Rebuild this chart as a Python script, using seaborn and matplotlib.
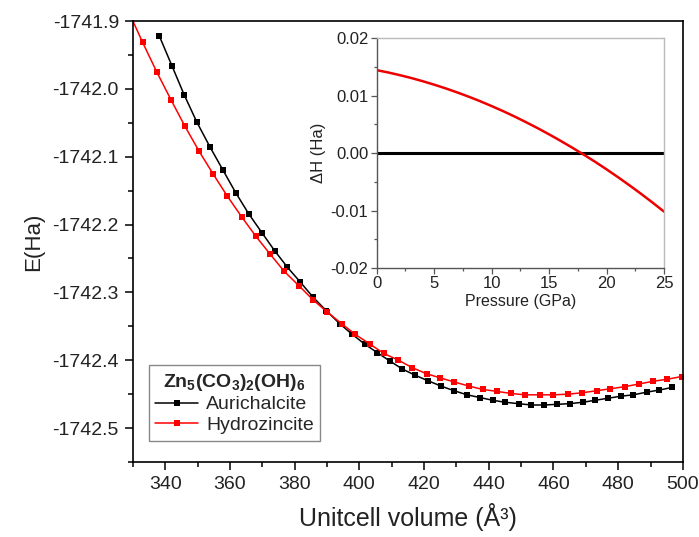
import numpy as np
import pandas as pd
import matplotlib
matplotlib.use("Agg")
import matplotlib.pyplot as plt
from matplotlib.ticker import MultipleLocator, FormatStrFormatter
import seaborn as sns

# Aurichalcite E(V)
v_aur = [338.2, 342.1, 345.9, 349.8, 353.9, 357.9, 361.8, 365.8, 369.9, 373.9,
         377.8, 381.8, 385.7, 389.8, 393.9, 397.6, 401.6, 405.6, 409.4, 413.3,
         417.2, 421.1, 425.2, 429.3, 433.3, 437.3, 441.2, 445.1, 449.2, 453.2,
         457.1, 461.1, 465.0, 469.0, 472.9, 476.9, 480.8, 484.7, 488.8, 492.7,
         496.7]
e_aur = [-1741.922, -1741.966, -1742.009, -1742.049, -1742.086, -1742.120,
         -1742.153, -1742.184, -1742.212, -1742.239, -1742.263, -1742.285,
         -1742.307, -1742.327, -1742.346, -1742.361, -1742.376, -1742.389,
         -1742.401, -1742.413, -1742.422, -1742.430, -1742.438, -1742.445,
         -1742.451, -1742.455, -1742.459, -1742.462, -1742.464, -1742.466,
         -1742.466, -1742.465, -1742.464, -1742.462, -1742.459, -1742.456,
         -1742.453, -1742.451, -1742.447, -1742.444, -1742.440]

# Hydrozincite E(V)
v_hyd = [328.6, 333.0, 337.4, 341.8, 346.1, 350.5, 354.9, 359.2, 363.7, 368.0,
         372.5, 376.8, 381.3, 385.7, 390.1, 394.5, 398.8, 403.2, 407.6, 412.1,
         416.4, 420.8, 425.0, 429.3, 433.8, 438.1, 442.6, 446.9, 451.2, 455.7,
         460.0, 464.5, 468.8, 473.3, 477.6, 482.0, 486.4, 490.8, 495.2, 499.6]
e_hyd = [-1741.885, -1741.931, -1741.975, -1742.016, -1742.055, -1742.092,
         -1742.126, -1742.158, -1742.189, -1742.217, -1742.244, -1742.269,
         -1742.290, -1742.311, -1742.329, -1742.346, -1742.362, -1742.376,
         -1742.390, -1742.400, -1742.411, -1742.420, -1742.426, -1742.432,
         -1742.438, -1742.443, -1742.446, -1742.449, -1742.451, -1742.451,
         -1742.451, -1742.450, -1742.448, -1742.445, -1742.442, -1742.439,
         -1742.435, -1742.431, -1742.428, -1742.424]

# inset: enthalpy difference vs pressure
pressure = list(range(0, 26))
delta_h = [0.01443, 0.01402, 0.01356, 0.01306, 0.01250, 0.01190, 0.01125,
           0.01055, 0.00981, 0.00902, 0.00817, 0.00729, 0.00635, 0.00536,
           0.00433, 0.00325, 0.00212, 0.00095, -0.00026, -0.00152, -0.00284,
           -0.00421, -0.00563, -0.00710, -0.00862, -0.01020]

sns.set_style("ticks")
plt.rcParams["font.family"] = ["Liberation Sans", "DejaVu Sans"]
plt.rcParams["axes.unicode_minus"] = False
plt.rcParams["mathtext.fontset"] = "custom"
plt.rcParams["mathtext.rm"] = "Liberation Sans"
plt.rcParams["mathtext.bf"] = "Liberation Sans:bold"
plt.rcParams["mathtext.default"] = "regular"

fig = plt.figure(figsize=(6.99, 5.37), dpi=100)
ax = fig.add_axes([0.190, 0.1397, 0.787, 0.821])

sns.lineplot(x=v_aur, y=e_aur, color="black", marker="s", markersize=5,
             markeredgewidth=0, linewidth=1.1, sort=False, ax=ax,
             label="Aurichalcite")
sns.lineplot(x=v_hyd, y=e_hyd, color="#ff0000", marker="s", markersize=5,
             markeredgewidth=0, linewidth=1.1, sort=False, ax=ax,
             label="Hydrozincite")

ax.set_xlim(330, 500)
ax.set_ylim(-1742.55, -1741.9)
ax.xaxis.set_major_locator(MultipleLocator(20))
ax.xaxis.set_minor_locator(MultipleLocator(10))
ax.yaxis.set_major_locator(MultipleLocator(0.1))
ax.yaxis.set_minor_locator(MultipleLocator(0.05))
ax.yaxis.set_major_formatter(FormatStrFormatter("%.1f"))
ax.tick_params(which="major", direction="out", length=6, width=1.1,
               labelsize=14, color="black", labelcolor="#222222", pad=4)
ax.tick_params(which="minor", direction="out", length=3.5, width=1.1, color="black")
for s in ax.spines.values():
    s.set_visible(True)
    s.set_linewidth(1.2)
    s.set_color("black")
ax.set_xlabel("Unitcell volume (Å³)", fontsize=18, color="#222222", labelpad=7)
ax.set_ylabel("E(Ha)", fontsize=16, color="#222222", labelpad=6)

leg = ax.legend(title=r"$\mathbf{Zn_5(CO_3)_2(OH)_6}$", loc="lower left",
                bbox_to_anchor=(0.018, 0.035), fontsize=14, title_fontsize=14,
                fancybox=False, framealpha=1, edgecolor="#888888",
                handlelength=2.2, handletextpad=0.4, borderpad=0.35,
                labelspacing=0.15, borderaxespad=0.3)
leg.get_frame().set_linewidth(1.0)

# inset
axi = fig.add_axes([0.539, 0.501, 0.411, 0.428])
axi.set_facecolor("white")
axi.axhline(0, color="black", linewidth=2.2)
sns.lineplot(x=pressure, y=delta_h, color="#ee0000", linewidth=1.8, ax=axi)
axi.set_xlim(0, 25)
axi.set_ylim(-0.02, 0.02)
axi.xaxis.set_major_locator(MultipleLocator(5))
axi.xaxis.set_minor_locator(MultipleLocator(2.5))
axi.yaxis.set_major_locator(MultipleLocator(0.01))
axi.yaxis.set_minor_locator(MultipleLocator(0.005))
axi.yaxis.set_major_formatter(FormatStrFormatter("%.2f"))
axi.tick_params(which="major", direction="out", length=4, width=0.9,
                labelsize=12, color="#555555", labelcolor="#222222", pad=2)
axi.tick_params(which="minor", direction="out", length=2.5, width=0.9, color="#555555")
for side in ["left", "bottom"]:
    axi.spines[side].set_color("#555555")
    axi.spines[side].set_linewidth(1.0)
for side in ["top", "right"]:
    axi.spines[side].set_visible(True)
    axi.spines[side].set_color("#bbbbbb")
    axi.spines[side].set_linewidth(1.0)
axi.set_xlabel("Pressure (GPa)", fontsize=11.5, color="#222222", labelpad=2)
axi.set_ylabel("ΔH (Ha)", fontsize=12, color="#222222", labelpad=3)

fig.savefig("out.png", dpi=100)
